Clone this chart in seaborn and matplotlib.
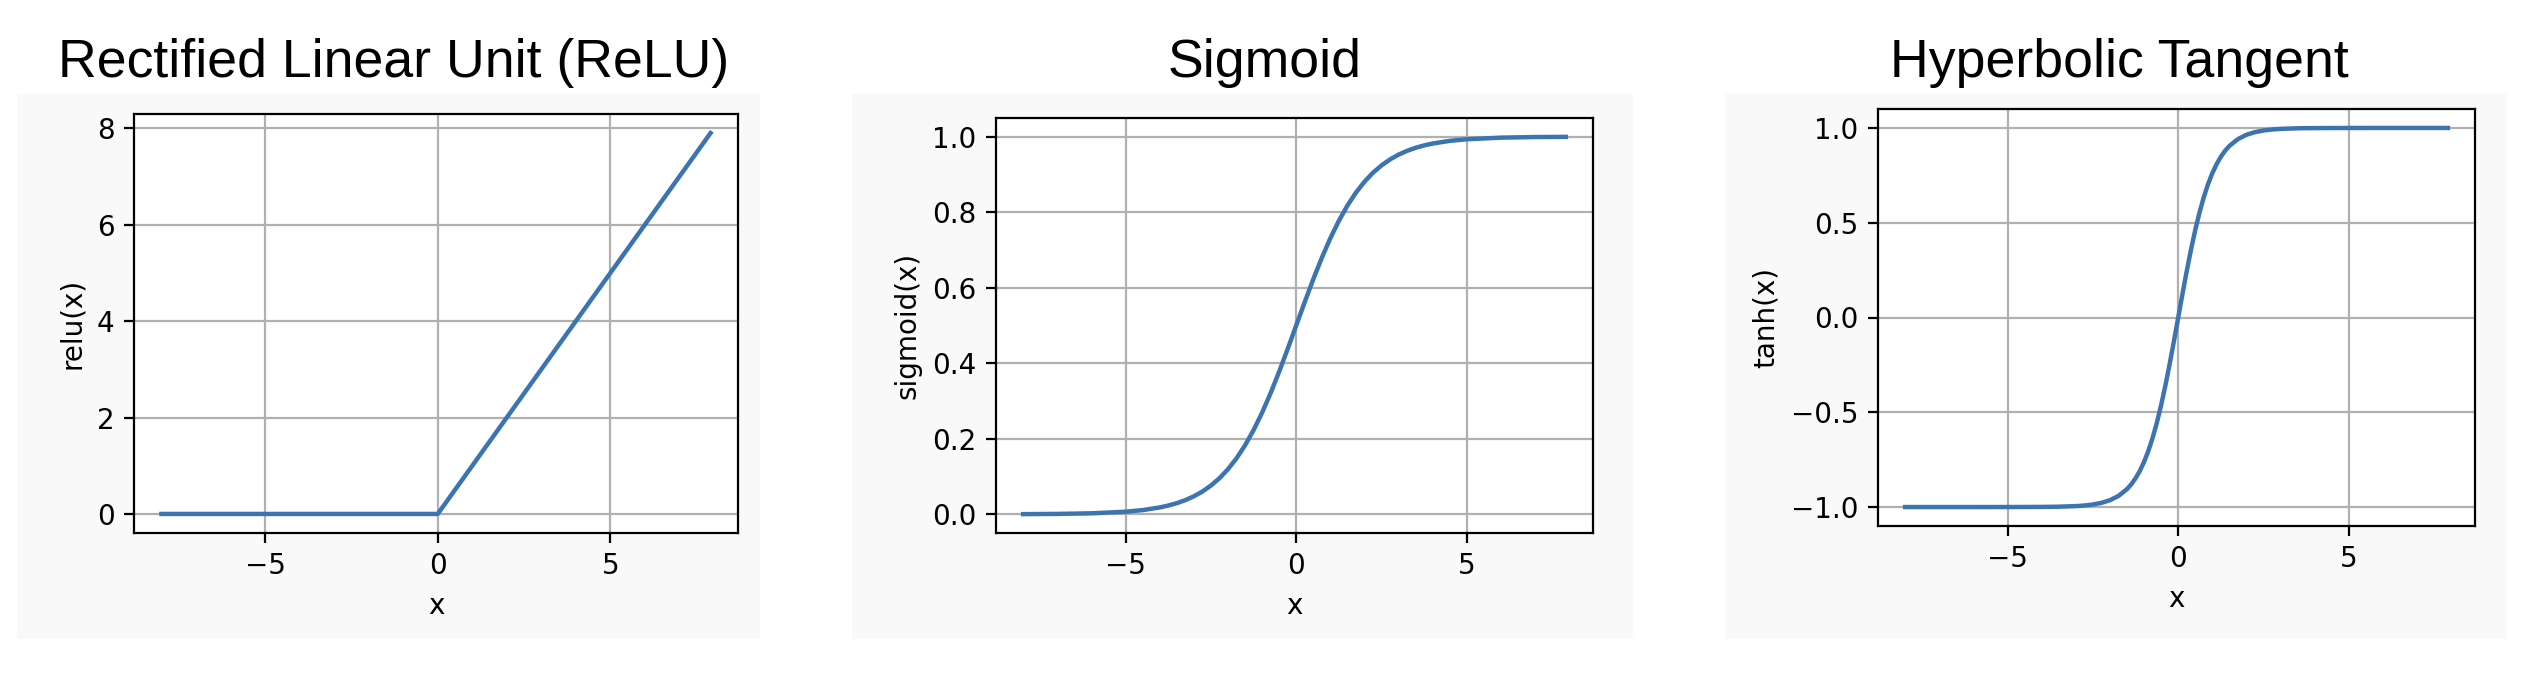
import numpy as np
import pandas as pd
import matplotlib
matplotlib.use("Agg")
import matplotlib.pyplot as plt
from matplotlib.patches import Rectangle
import seaborn as sns

# valores
relu_x = [-8.0, 0.0, 7.9]
relu_y = [0.0, 0.0, 7.9]

sig_x = [-8.0, -7.0, -6.0, -5.0, -4.5, -4.0, -3.75, -3.5, -3.25, -3.0, -2.75, -2.5, -2.25,
         -2.0, -1.75, -1.5, -1.25, -1.0, -0.75, -0.5, -0.25, 0.0, 0.25, 0.5, 0.75, 1.0,
         1.25, 1.5, 1.75, 2.0, 2.25, 2.5, 2.75, 3.0, 3.25, 3.5, 3.75, 4.0, 4.5, 5.0,
         6.0, 7.0, 7.9]
sig_y = [0.0003, 0.0009, 0.0025, 0.0067, 0.0110, 0.0180, 0.0230, 0.0293, 0.0373, 0.0474,
         0.0601, 0.0759, 0.0953, 0.1192, 0.1480, 0.1824, 0.2227, 0.2689, 0.3208, 0.3775,
         0.4378, 0.5000, 0.5622, 0.6225, 0.6792, 0.7311, 0.7773, 0.8176, 0.8520, 0.8808,
         0.9047, 0.9241, 0.9399, 0.9526, 0.9627, 0.9707, 0.9770, 0.9820, 0.9890, 0.9933,
         0.9975, 0.9991, 0.9996]

tanh_x = [-8.0, -6.0, -5.0, -4.0, -3.5, -3.0, -2.75, -2.5, -2.25, -2.0, -1.75, -1.5,
          -1.375, -1.25, -1.125, -1.0, -0.875, -0.75, -0.625, -0.5, -0.375, -0.25, -0.125,
          0.0, 0.125, 0.25, 0.375, 0.5, 0.625, 0.75, 0.875, 1.0, 1.125, 1.25, 1.375, 1.5,
          1.75, 2.0, 2.25, 2.5, 2.75, 3.0, 3.5, 4.0, 5.0, 6.0, 7.9]
tanh_y = [-1.0000, -1.0000, -0.9999, -0.9993, -0.9982, -0.9951, -0.9919, -0.9866, -0.9780,
          -0.9640, -0.9414, -0.9052, -0.8801, -0.8483, -0.8094, -0.7616, -0.7041, -0.6351,
          -0.5546, -0.4621, -0.3584, -0.2449, -0.1244, 0.0, 0.1244, 0.2449, 0.3584, 0.4621,
          0.5546, 0.6351, 0.7041, 0.7616, 0.8094, 0.8483, 0.8801, 0.9052, 0.9414, 0.9640,
          0.9780, 0.9866, 0.9919, 0.9951, 0.9982, 0.9993, 0.9999, 1.0000, 1.0000]

titulos = ['Rectified Linear Unit (ReLU)', 'Sigmoid', 'Hyperbolic Tangent']
ylabels = ['relu(x)', 'sigmoid(x)', 'tanh(x)']
yticks = [[0, 2, 4, 6, 8], [0.0, 0.2, 0.4, 0.6, 0.8, 1.0], [-1.0, -0.5, 0.0, 0.5, 1.0]]

W, H = 2544, 682
fig = plt.figure(figsize=(W / 200, H / 200), dpi=200)
fig.patch.set_facecolor('white')

# posiciones en pixeles (izq, arriba, der, abajo)
paneles = [(17, 94, 760, 639), (852, 94, 1633, 639), (1725, 94, 2507, 639)]
ejes = [(134, 114, 738, 533), (996, 118, 1593, 533), (1878, 109, 2475, 526)]
centros_titulo = [394, 1265, 2119]

datos = [(relu_x, relu_y), (sig_x, sig_y), (tanh_x, tanh_y)]

for i in range(3):
    l, t, r, b = paneles[i]
    fig.patches.append(Rectangle((l / W, 1 - b / H), (r - l) / W, (b - t) / H,
                                 transform=fig.transFigure, facecolor='#f9f9f9',
                                 edgecolor='none', zorder=-10))
    l, t, r, b = ejes[i]
    ax = fig.add_axes([l / W, 1 - b / H, (r - l) / W, (b - t) / H])
    df = pd.DataFrame({'x': datos[i][0], 'y': datos[i][1]})
    sns.lineplot(data=df, x='x', y='y', ax=ax, color='#3b74b0', linewidth=1.6)
    ax.set_xticks([-5, 0, 5])
    ax.set_xticklabels(['\u22125', '0', '5'])
    ax.set_yticks(yticks[i])
    ax.grid(True, color='#b0b0b0', linewidth=0.8)
    ax.set_axisbelow(True)
    ax.tick_params(labelsize=10)
    ax.set_xlabel('x', fontsize=10)
    ax.set_ylabel(ylabels[i], fontsize=10)
    fig.text(centros_titulo[i] / W, 1 - 77 / H, titulos[i], ha='center', va='baseline',
             fontsize=19.3, family='Liberation Sans')

plt.savefig('out.png', dpi=200)
